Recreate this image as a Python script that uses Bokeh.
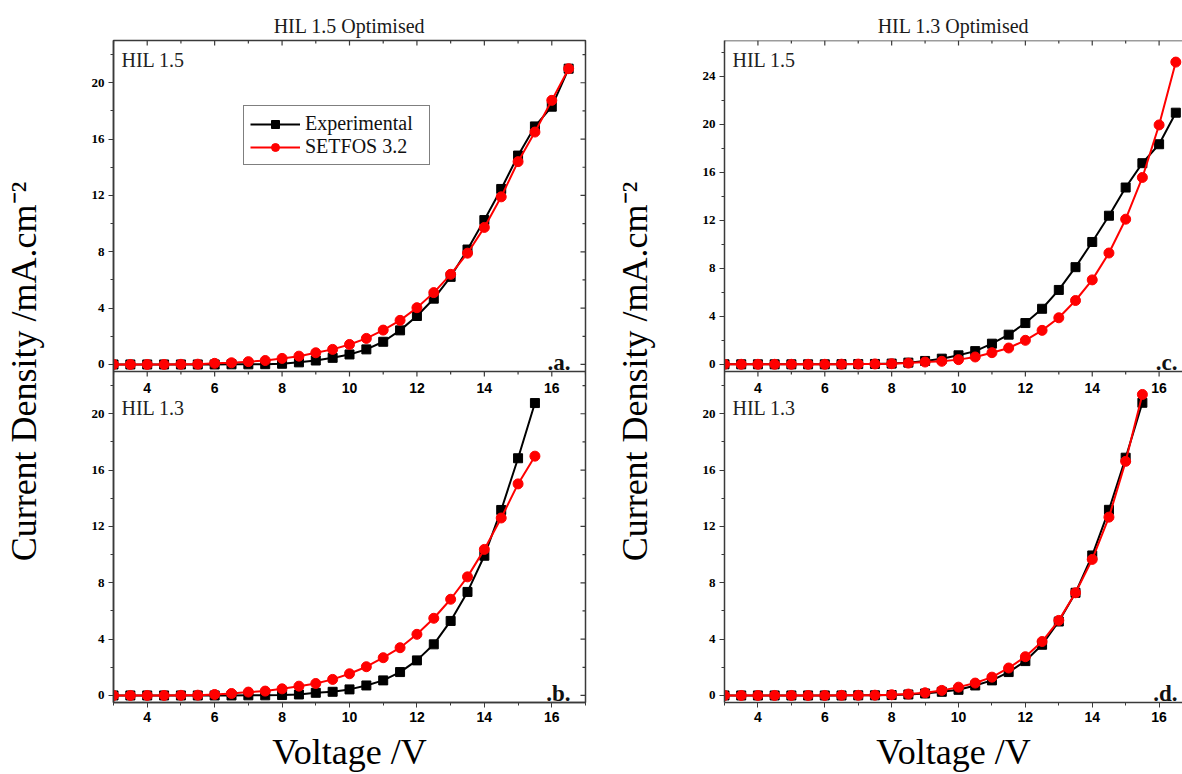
import math
from bokeh.plotting import figure
from bokeh.models import Range1d, FixedTicker, Span, Legend, LegendItem, Label
from bokeh.layouts import row
from bokeh.embed import file_html
from bokeh.resources import INLINE
from bokeh.core.properties import value

# ---------------- data ----------------
voltage_long = [3.0, 3.5, 4.0, 4.5, 5.0, 5.5, 6.0, 6.5, 7.0, 7.5, 8.0, 8.5, 9.0, 9.5,
                10.0, 10.5, 11.0, 11.5, 12.0, 12.5, 13.0, 13.5, 14.0, 14.5, 15.0, 15.5, 16.0, 16.5]
voltage_short = [3.0, 3.5, 4.0, 4.5, 5.0, 5.5, 6.0, 6.5, 7.0, 7.5, 8.0, 8.5, 9.0, 9.5,
                 10.0, 10.5, 11.0, 11.5, 12.0, 12.5, 13.0, 13.5, 14.0, 14.5, 15.0, 15.5]

# (a) HIL 1.5 Optimised, HIL 1.5
a_experimental = [0, 0, 0, 0, 0, 0, 0, 0.01, 0.01, 0.02, 0.05, 0.15, 0.28, 0.47, 0.71, 1.07,
                  1.61, 2.42, 3.44, 4.67, 6.22, 8.16, 10.25, 12.46, 14.83, 16.9, 18.3, 21.0]
a_setfos = [0, 0, 0, 0, 0.01, 0.02, 0.08, 0.12, 0.2, 0.28, 0.43, 0.59, 0.83, 1.07, 1.42, 1.85,
            2.44, 3.13, 4.03, 5.1, 6.4, 7.9, 9.73, 11.9, 14.4, 16.5, 18.75, 21.0]
# (b) HIL 1.5 Optimised, HIL 1.3
b_experimental = [0, 0, 0, 0, 0, 0, 0, 0, 0.01, 0.01, 0.03, 0.07, 0.19, 0.26, 0.43, 0.71,
                  1.07, 1.66, 2.49, 3.63, 5.29, 7.35, 9.92, 13.17, 16.84, 20.76]
b_setfos = [0, 0, 0, 0, 0.01, 0.02, 0.07, 0.14, 0.24, 0.31, 0.47, 0.66, 0.85, 1.14, 1.54, 2.04,
            2.68, 3.39, 4.34, 5.48, 6.83, 8.42, 10.37, 12.6, 15.02, 16.99]
# (c) HIL 1.3 Optimised, HIL 1.5
c_experimental = [0, 0, 0, 0, 0, 0, 0, 0.01, 0.02, 0.03, 0.06, 0.14, 0.28, 0.47, 0.75, 1.1,
                  1.72, 2.47, 3.44, 4.63, 6.2, 8.1, 10.2, 12.39, 14.74, 16.77, 18.35, 20.98]
c_setfos = [0, 0, 0, 0, 0, 0, 0, 0.01, 0.02, 0.03, 0.05, 0.1, 0.19, 0.25, 0.39, 0.61,
            0.97, 1.36, 2.0, 2.83, 3.88, 5.32, 7.04, 9.28, 12.1, 15.58, 19.96, 25.2]
# (d) HIL 1.3 Optimised, HIL 1.3
d_experimental = [0, 0, 0, 0, 0, 0, 0, 0, 0.01, 0.01, 0.03, 0.07, 0.14, 0.26, 0.4, 0.71,
                  1.07, 1.66, 2.44, 3.6, 5.25, 7.29, 9.94, 13.18, 16.88, 20.78]
d_setfos = [0, 0, 0, 0, 0, 0, 0, 0.01, 0.01, 0.02, 0.05, 0.1, 0.19, 0.36, 0.59, 0.88,
            1.3, 1.95, 2.75, 3.83, 5.33, 7.29, 9.66, 12.66, 16.62, 21.37]

series_names = ["Experimental", "SETFOS 3.2"]
column_titles = ["HIL 1.5 Optimised", "HIL 1.3 Optimised"]
panel_names = ["HIL 1.5", "HIL 1.3"]
panel_tags = [".a.", ".b.", ".c.", ".d."]

x_major = [4, 6, 8, 10, 12, 14, 16]
x_minor = [3, 5, 7, 9, 11, 13, 15, 17]
x_tick_labels = ["4", "6", "8", "10", "12", "14", "16"]
y_major_20 = [0, 4, 8, 12, 16, 20]
y_minor_20 = [2, 6, 10, 14, 18, 22]
y_major_24 = [0, 4, 8, 12, 16, 20, 24]
y_minor_24 = [2, 6, 10, 14, 18, 22, 26]

x_label = "Voltage /V"
y_label = "Current Density /mA.cm\u207b\u00b2"

FRAME = "#3a3a3a"
SERIF = "Liberation Serif"
SANS = "Liberation Sans"
RED = "#ff0000"


def draw_series(p, v, exp, sim, rng):
    le = p.line(v, exp, line_color="black", line_width=2, y_range_name=rng)
    se = p.scatter(v, exp, marker="square", size=9, fill_color="black",
                   line_color="black", y_range_name=rng)
    ls = p.line(v, sim, line_color=RED, line_width=2, y_range_name=rng)
    ss = p.scatter(v, sim, marker="circle", size=10, fill_color=RED,
                   line_color=RED, y_range_name=rng)
    return [le, se], [ls, ss]


def make_column(title, width, min_left, min_right, x_end, top_lim, top_major, top_minor,
                top_data, bot_data, voltage_top, voltage_bot, tags, legend, cropped, tag_dx):
    bot_lo, div = -0.5, 23.0
    total_hi = div + (div - bot_lo)
    tb, tt = top_lim

    def to_default(t):
        return div + (t - tb) * (total_hi - div) / (tt - tb)

    p = figure(width=width, height=774, x_range=Range1d(3, x_end),
               y_range=Range1d(bot_lo, total_hi), output_backend="svg",
               toolbar_location=None, min_border_left=min_left,
               min_border_right=min_right, min_border_top=40, min_border_bottom=0)
    p.extra_y_ranges = {"top": Range1d(tb - (tt - tb), tt)}
    p.xgrid.visible = False
    p.ygrid.visible = False
    p.background_fill_color = "white"
    p.border_fill_color = "white"

    p.title.text = title
    p.title.align = "center"
    p.title.text_font = SERIF
    p.title.text_font_style = "normal"
    p.title.text_font_size = "20px"
    p.title.text_color = "#1a1a1a"
    p.title.standoff = 8

    if cropped:
        p.outline_line_color = None
        p.add_layout(Span(location=total_hi, dimension="width", line_color=FRAME, line_width=1.5))
    else:
        p.outline_line_color = FRAME
        p.outline_line_width = 1.5
        p.outline_line_alpha = 1.0

    # x axis (bottom panel)
    xa = p.xaxis[0]
    xa.ticker = FixedTicker(ticks=x_major, minor_ticks=x_minor)
    xa.major_label_overrides = {t: s for t, s in zip(x_major, x_tick_labels)}
    xa.major_label_text_font = SANS
    xa.major_label_text_font_style = "bold"
    xa.major_label_text_font_size = "14px"
    xa.major_label_text_color = "black"
    xa.major_tick_out = 5
    xa.major_tick_in = 0
    xa.minor_tick_out = 3
    xa.minor_tick_in = 0
    xa.major_label_standoff = 4
    xa.axis_line_color = FRAME
    xa.axis_line_width = 1.5
    xa.major_tick_line_color = FRAME
    xa.minor_tick_line_color = FRAME
    xa.axis_label = x_label
    xa.axis_label_text_font = SERIF
    xa.axis_label_text_font_style = "normal"
    xa.axis_label_text_font_size = "36px"
    xa.axis_label_text_color = "black"
    xa.axis_label_standoff = 7

    # y axis (both panels on one axis)
    bot_major = list(y_major_20)
    top_major_pos = [to_default(t) for t in top_major]
    ya = p.yaxis[0]
    ya.ticker = FixedTicker(ticks=bot_major + top_major_pos,
                            minor_ticks=list(y_minor_20) + [to_default(t) for t in top_minor])
    overrides = {t: str(t) for t in bot_major}
    for pos, t in zip(top_major_pos, top_major):
        overrides[pos] = str(t)
    ya.major_label_overrides = overrides
    ya.major_label_text_font = SERIF
    ya.major_label_text_font_style = "bold"
    ya.major_label_text_font_size = "13px"
    ya.major_label_text_color = "black"
    ya.major_tick_out = 5
    ya.major_tick_in = 0
    ya.minor_tick_out = 3
    ya.minor_tick_in = 0
    ya.major_label_standoff = 4
    ya.axis_line_color = FRAME
    ya.axis_line_width = 1.5
    ya.major_tick_line_color = FRAME
    ya.minor_tick_line_color = FRAME
    ya.axis_label = y_label
    ya.axis_label_text_font = SERIF
    ya.axis_label_text_font_style = "normal"
    ya.axis_label_text_font_size = "36px"
    ya.axis_label_text_color = "black"
    ya.axis_label_standoff = 45

    # divider between the two stacked panels
    p.add_layout(Span(location=div, dimension="width", line_color=FRAME, line_width=1.5))
    p.ray(x=x_major, y=[div] * len(x_major), length=5, length_units="screen",
          angle=-math.pi / 2, line_color=FRAME, line_width=1.2)
    p.ray(x=x_minor, y=[div] * len(x_minor), length=3, length_units="screen",
          angle=-math.pi / 2, line_color=FRAME, line_width=1.2)
    p.text(x=x_major, y=[div] * len(x_major), text=x_tick_labels,
           text_font=value(SANS), text_font_style="bold", text_font_size="14px",
           text_align="center", text_baseline="middle", y_offset=16, text_color="black")

    # inward ticks on top edge (and right edge when visible)
    p.ray(x=x_major, y=[total_hi] * len(x_major), length=5, length_units="screen",
          angle=-math.pi / 2, line_color=FRAME, line_width=1.2)
    p.ray(x=x_minor, y=[total_hi] * len(x_minor), length=3, length_units="screen",
          angle=-math.pi / 2, line_color=FRAME, line_width=1.2)
    if not cropped:
        all_major = bot_major + top_major_pos
        all_minor = list(y_minor_20) + [to_default(t) for t in top_minor]
        p.ray(x=[x_end] * len(all_major), y=all_major, length=5, length_units="screen",
              angle=math.pi, line_color=FRAME, line_width=1.2)
        p.ray(x=[x_end] * len(all_minor), y=all_minor, length=3, length_units="screen",
              angle=math.pi, line_color=FRAME, line_width=1.2)

    exp_top, sim_top = draw_series(p, voltage_top, top_data[0], top_data[1], "top")
    draw_series(p, voltage_bot, bot_data[0], bot_data[1], "default")

    # panel captions
    p.add_layout(Label(x=3, y=tt, y_range_name="top", x_offset=8, y_offset=-8,
                       text=panel_names[0], text_baseline="top", text_font=SERIF,
                       text_font_size="20px", text_color="#222222"))
    p.add_layout(Label(x=3, y=div, x_offset=8, y_offset=-25,
                       text=panel_names[1], text_baseline="top", text_font=SERIF,
                       text_font_size="20px", text_color="#222222"))
    p.add_layout(Label(x=x_end, y=0, y_range_name="top", x_offset=tag_dx, y_offset=2,
                       text=tags[0], text_align="right", text_baseline="middle",
                       text_font=SERIF, text_font_style="bold", text_font_size="23px",
                       text_color="#111111"))
    p.add_layout(Label(x=x_end, y=0, x_offset=tag_dx, y_offset=2,
                       text=tags[1], text_align="right", text_baseline="middle",
                       text_font=SERIF, text_font_style="bold", text_font_size="23px",
                       text_color="#111111"))

    if legend:
        lg = Legend(items=[LegendItem(label=series_names[0], renderers=exp_top),
                           LegendItem(label=series_names[1], renderers=sim_top)],
                    location=(130, 537))
        lg.border_line_color = "black"
        lg.border_line_width = 1.5
        lg.background_fill_color = "white"
        lg.background_fill_alpha = 1.0
        lg.label_text_font = SERIF
        lg.label_text_font_size = "20px"
        lg.label_text_color = "#111111"
        lg.glyph_width = 50
        lg.glyph_height = 20
        lg.label_width = 118
        lg.label_standoff = 5
        lg.padding = 6
        lg.spacing = 0
        lg.margin = 0
        p.add_layout(lg)
    return p


p1 = make_column(column_titles[0], 611, 113, 26, 17, (-0.5, 23), y_major_20, y_minor_20,
                 (a_experimental, a_setfos), (b_experimental, b_setfos),
                 voltage_long, voltage_short, panel_tags[0:2], True, False, -15)
p2 = make_column(column_titles[1], 571, 110, 0, 16.7, (-0.6, 27), y_major_24, y_minor_24,
                 (c_experimental, c_setfos), (d_experimental, d_setfos),
                 voltage_long, voltage_short, panel_tags[2:4], False, True, -5)

layout = row(p1, p2)
open("out.html", "w").write(file_html(layout, INLINE))
